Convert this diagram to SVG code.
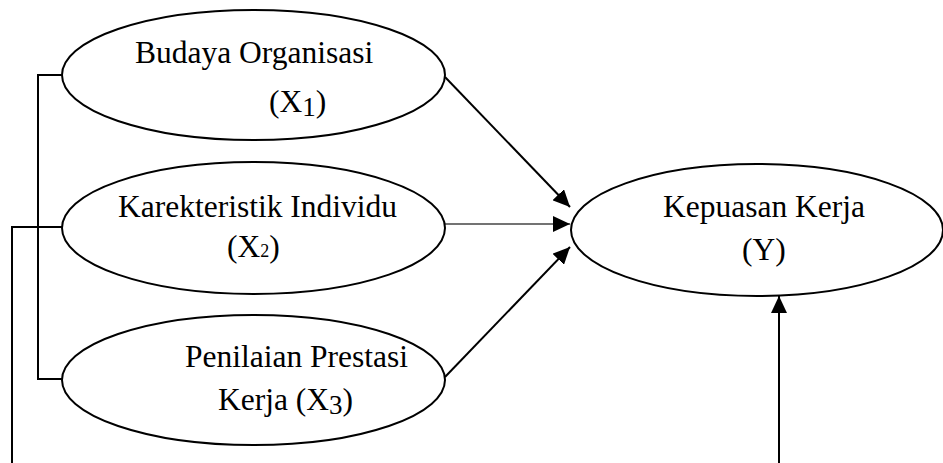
<svg xmlns="http://www.w3.org/2000/svg" width="943" height="463" viewBox="0 0 943 463">
<style>
  .node ellipse { fill: #ffffff; stroke: #000000; stroke-width: 2; }
  .node text { font-family: "Liberation Serif", "Times New Roman", serif; font-size: 31.5px; fill: #000000; }
  .conn line, .conn polyline { fill: none; stroke: #000000; stroke-width: 2; }
  .conn .thin { stroke: #444444; stroke-width: 1.3; }
</style>
<defs>
  <marker id="arrow" markerUnits="userSpaceOnUse" markerWidth="18" markerHeight="16" refX="17" refY="8" orient="auto">
    <path d="M0,0 L17,8 L0,16 Z" fill="#000000"/>
  </marker>
</defs>
<rect x="0" y="0" width="943" height="463" fill="#ffffff"/>
<g id="connectors" class="conn">
  <polyline points="62,75 38,75 38,379 62,379"/>
  <polyline points="62,227 12,227 12,463"/>
  <line x1="445" y1="77" x2="570" y2="207" marker-end="url(#arrow)"/>
  <line class="thin" x1="445" y1="224" x2="570" y2="224" marker-end="url(#arrow)"/>
  <line x1="445" y1="377" x2="570" y2="247" marker-end="url(#arrow)"/>
  <line x1="779" y1="463" x2="779" y2="296" marker-end="url(#arrow)"/>
</g>
<g id="node-x1" class="node">
  <ellipse cx="253.5" cy="75" rx="191.5" ry="65"/>
  <text x="135" y="63">Budaya Organisasi</text>
  <text x="269" y="112">(X<tspan font-size="27" dy="3.5">1</tspan><tspan dy="-3.5">)</tspan></text>
</g>
<g id="node-x2" class="node">
  <ellipse cx="253.5" cy="228" rx="191.5" ry="66"/>
  <text x="118" y="217">Karekteristik Individu</text>
  <text x="227" y="257">(X<tspan font-size="18">2</tspan>)</text>
</g>
<g id="node-x3" class="node">
  <ellipse cx="253.5" cy="380" rx="191.5" ry="65"/>
  <text x="185" y="367">Penilaian Prestasi</text>
  <text x="218" y="410">Kerja (X<tspan font-size="27" dy="4">3</tspan><tspan dy="-4">)</tspan></text>
</g>
<g id="node-y" class="node">
  <ellipse cx="757" cy="230" rx="186" ry="66"/>
  <text x="663" y="217">Kepuasan Kerja</text>
  <text x="742" y="260">(Y)</text>
</g>
</svg>
